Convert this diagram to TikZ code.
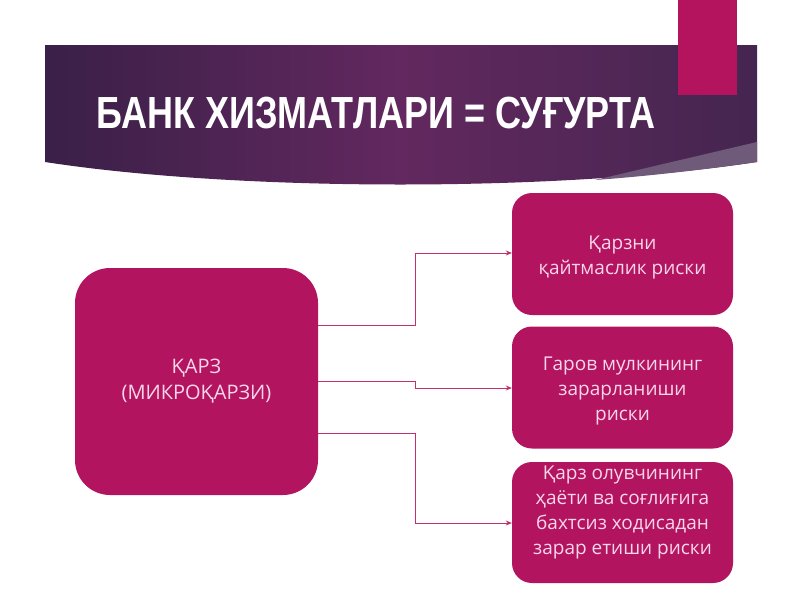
\documentclass[tikz,border=0pt]{standalone}
\usepackage{fontspec}
\setmainfont{Open Sans}
\newfontfamily\titlefont[FakeStretch=0.80]{Liberation Sans}
\usetikzlibrary{arrows.meta}
\definecolor{boxfill}{HTML}{B3145F}
\definecolor{boxtext}{HTML}{FAD6EA}
\definecolor{bandA}{HTML}{3A2048}
\definecolor{bandB}{HTML}{62285F}
\definecolor{bandC}{HTML}{452650}
\definecolor{wedge}{HTML}{6F5A7A}
\definecolor{linecol}{HTML}{C0306E}
\definecolor{topbar}{HTML}{B4135E}
\tikzset{
  bigbox/.style={draw=none, fill=boxfill, rounded corners=35pt, minimum width=243pt, minimum height=227pt, align=center, text=boxtext, font=\fontsize{20}{26}\selectfont},
  riskbox/.style={draw=none, fill=boxfill, rounded corners=20pt, minimum width=221pt, minimum height=122pt, align=center, text=boxtext, font=\fontsize{19}{24.5}\selectfont},
  risktext/.style={align=center, text=boxtext, font=\fontsize{19}{25}\selectfont},
  conn/.style={draw=linecol, line width=0.8pt, -{Stealth[length=6pt,width=5pt]}},
}
\begin{document}
\begin{tikzpicture}[x=1pt,y=-1pt]
\useasboundingbox (0,0) rectangle (800,600);
\fill[white] (0,0) rectangle (800,600);
% header band
\shade[left color=bandA, right color=bandC, middle color=bandB]
  (45,45) -- (757,45) -- (757,162) .. controls (560,192) and (240,192) .. (45,162) -- cycle;
\fill[wedge] (757,142) -- (757,162) .. controls (700,170) and (650,176) .. (595,180) -- cycle;
\fill[topbar] (678,0) rectangle (737,95);
\node[text=white, font=\titlefont\bfseries\fontsize{45}{48}\selectfont, anchor=center] (title) at (376,113) {БАНК ХИЗМАТЛАРИ = СУҒУРТА};
% boxes
\node[bigbox] (loan) at (196.5,381.5) {ҚАРЗ\\(МИКРОҚАРЗИ)};
\node[riskbox] (r1) at (622.5,254) {};
\node[risktext] (t1) at (622.5,257) {Қарзни\\қайтмаслик риски};
\node[riskbox] (r2) at (622.5,387.5) {};
\node[risktext] (t2) at (622.5,391) {Гаров мулкининг\\зарарланиши\\риски};
\node[riskbox, minimum height=121pt] (r3) at (622.5,522.5) {};
\node[risktext] (t3) at (622.5,512) {Қарз олувчининг\\ҳаёти ва соғлиғига\\бахтсиз ходисадан\\зарар етиши риски};
% connectors
\draw[conn] (loan.east |- 0,325) -| (415,253) -- (r1.west |- 0,253);
\draw[conn] (loan.east |- 0,381) -| (415,388) -- (r2.west |- 0,388);
\draw[conn] (loan.east |- 0,433) -| (415,523) -- (r3.west |- 0,523);
\end{tikzpicture}
\end{document}
